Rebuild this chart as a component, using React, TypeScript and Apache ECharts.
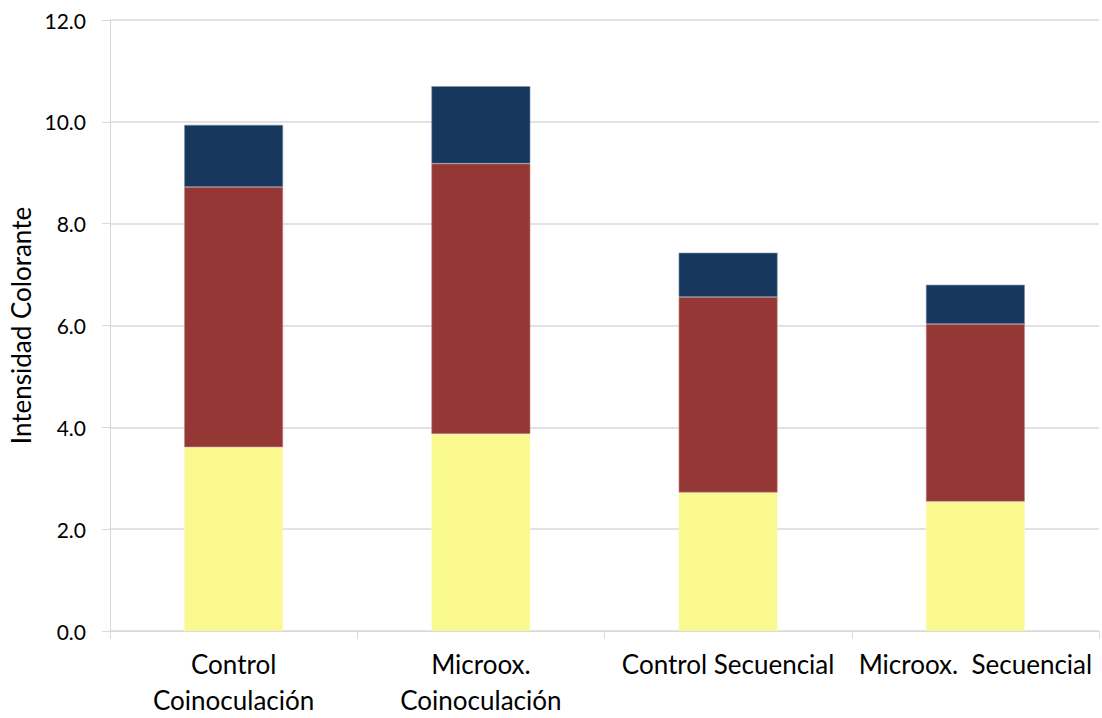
import React, { useEffect, useRef } from "react";
import * as echarts from "echarts";

const categories = ["Control\nCoinoculación", "Microox.\nCoinoculación", "Control Secuencial", "Microox.  Secuencial"];
const yellowValues = [3.61, 3.87, 2.72, 2.54];
const redValues = [5.11, 5.31, 3.84, 3.49];
const blueValues = [1.22, 1.52, 0.87, 0.77];
const yTicks = { min: 0, max: 12, interval: 2 };

const FONT = "Lato";

export default function App() {
  const ref = useRef<HTMLDivElement>(null);
  useEffect(() => {
    if (!ref.current) return;
    const chart = echarts.init(ref.current, undefined, { renderer: "svg" });
    const mkSeries = (name: string, data: number[], color: string, border: string) => ({
      name,
      type: "bar",
      stack: "total",
      data,
      barWidth: "40%",
      itemStyle: { color, borderColor: border, borderWidth: 0.6 },
    });
    chart.setOption({
      animation: false,
      backgroundColor: "#ffffff",
      grid: { left: 110, right: 3, top: 20, bottom: 87, containLabel: false, outerBoundsMode: "none" },
      xAxis: {
        type: "category",
        data: categories,
        axisLine: { show: true, lineStyle: { color: "#d9d9d9", width: 1 } },
        axisTick: { show: true, alignWithLabel: false, length: 8, lineStyle: { color: "#d9d9d9" } },
        axisLabel: {
          color: "#000",
          fontFamily: FONT,
          fontSize: 26,
          lineHeight: 36,
          margin: 15,
          interval: 0,
        },
      },
      yAxis: {
        type: "value",
        min: yTicks.min,
        max: yTicks.max,
        interval: yTicks.interval,
        name: "Intensidad Colorante",
        nameLocation: "middle",
        nameGap: 76,
        nameTextStyle: { color: "#000", fontFamily: FONT, fontSize: 26 },
        axisLine: { show: true, lineStyle: { color: "#d9d9d9", width: 1 } },
        axisTick: { show: true, length: 8, lineStyle: { color: "#d9d9d9" } },
        axisLabel: {
          color: "#000",
          fontFamily: FONT,
          fontSize: 21,
          margin: 24,
          formatter: (v: number) => v.toFixed(1),
        },
        splitLine: { show: true, lineStyle: { color: "#d9d9d9", width: 1.5 } },
      },
      series: [
        mkSeries("Amarillo", yellowValues, "#f9f98f", "#fbfbc0"),
        mkSeries("Rojo", redValues, "#953735", "#c98a88"),
        mkSeries("Azul", blueValues, "#17375e", "#7f93ad"),
      ],
    });
    return () => chart.dispose();
  }, []);
  return <div ref={ref} style={{ position: "fixed", left: 0, top: 0, width: 1102, height: 718, background: "#fff" }} />;
}
